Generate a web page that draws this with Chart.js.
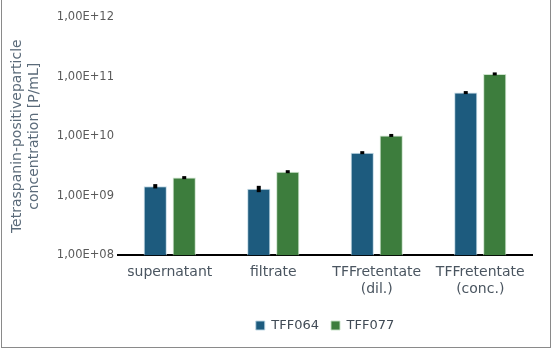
<!DOCTYPE html>
<html>
<head>
<meta charset="utf-8">
<script src="https://cdn.jsdelivr.net/npm/chart.js@4/dist/chart.umd.min.js"></script>
<style>
  html, body { margin: 0; padding: 0; background: #fff; }
  #frame {
    position: absolute; left: 1px; top: -1px;
    width: 548px; height: 347px;
    border: 1px solid #8a8a8a;
  }
  #wrap { position: absolute; left: 0; top: 0; width: 552px; height: 349px; }
</style>
</head>
<body>
<div id="frame"></div>
<div id="wrap"><canvas id="tffChart" width="552" height="349"></canvas></div>
<script>
// sample groups along the TFF process
const categories = ['supernatant', 'filtrate', ['TFFretentate', '(dil.)'], ['TFFretentate', '(conc.)']];
const seriesNames = ['TFF064', 'TFF077'];

// particle concentrations [P/mL] and their standard deviations
const tff064 = [1.45e9, 1.31e9, 5.3e9, 5.4e10];
const tff064Err = [0.12e9, 0.16e9, 0.3e9, 3e9];
const tff077 = [2.02e9, 2.54e9, 1.03e10, 1.11e11];
const tff077Err = [0.08e9, 0.1e9, 0.4e9, 4e9];

const yTicks = [1e8, 1e9, 1e10, 1e11, 1e12];
const colors = ['#1d5b7e', '#3d7d3d'];

function sciLabel(v) {
  const exp = Math.round(Math.log10(v));
  return '1,00E+' + String(exp).padStart(2, '0');
}

// small black error bars on top of each bar
const errorBars = {
  id: 'errorBars',
  afterDatasetsDraw(chart) {
    const ctx = chart.ctx;
    const y = chart.scales.y;
    const errs = [tff064Err, tff077Err];
    chart.data.datasets.forEach((ds, di) => {
      chart.getDatasetMeta(di).data.forEach((bar, i) => {
        const v = ds.data[i], e = errs[di][i];
        let top = y.getPixelForValue(v + e);
        let bot = y.getPixelForValue(v - e);
        if (bot - top < 3) { const m = (top + bot) / 2; top = m - 1.5; bot = m + 1.5; }
        ctx.save();
        ctx.fillStyle = '#000';
        ctx.fillRect(bar.x - 2, top, 4, bot - top);
        ctx.restore();
      });
    });
  }
};

new Chart(document.getElementById('tffChart'), {
  type: 'bar',
  data: {
    labels: categories,
    datasets: [
      { label: seriesNames[0], data: tff064, backgroundColor: colors[0],
        borderColor: 'rgba(190,215,228,0.9)', borderWidth: 1 },
      { label: seriesNames[1], data: tff077, backgroundColor: colors[1],
        borderColor: 'rgba(200,225,200,0.9)', borderWidth: 1 }
    ]
  },
  options: {
    responsive: false,
    animation: false,
    categoryPercentage: 0.56,
    barPercentage: 0.8,
    layout: { padding: { left: 0, right: 20, top: 17, bottom: 7 } },
    plugins: {
      tooltip: { enabled: false },
      legend: {
        position: 'bottom',
        fullSize: false,
        labels: {
          boxWidth: 9, boxHeight: 9, padding: 12,
          color: '#404a55',
          font: { family: 'DejaVu Sans', size: 13 }
        }
      }
    },
    scales: {
      x: {
        grid: { display: false, drawTicks: false },
        border: { display: true, color: '#000', width: 2 },
        ticks: {
          color: '#4a5560', padding: 9, maxRotation: 0,
          font: { family: 'DejaVu Sans', size: 14 }
        }
      },
      y: {
        type: 'logarithmic',
        min: 1e8, max: 1e12,
        afterBuildTicks(scale) { scale.ticks = yTicks.map(v => ({ value: v })); },
        afterFit(scale) { scale.width = 118; },
        grid: { display: false, drawTicks: false },
        border: { display: false },
        ticks: {
          color: '#5a5a5a', padding: 4,
          font: { family: 'DejaVu Sans', size: 11.5 },
          callback: v => sciLabel(v)
        },
        title: {
          display: true,
          text: ['Tetraspanin-positiveparticle', 'concentration [P/mL]'],
          color: '#5b6b7a',
          padding: { top: 9, bottom: 4 },
          font: { family: 'DejaVu Sans', size: 14, lineHeight: 1.2 }
        }
      }
    }
  },
  plugins: [errorBars]
});
</script>
</body>
</html>
